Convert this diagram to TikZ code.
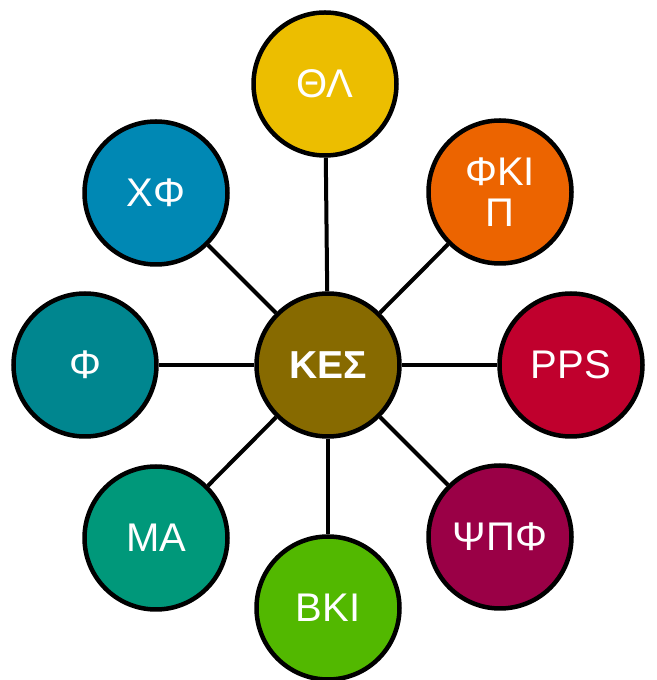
\documentclass[tikz,border=0pt]{standalone}
\usepackage{fontspec}
\setmainfont{Liberation Sans}
\usepackage{xcolor}
\usepackage{tikz}
\usetikzlibrary{positioning}
\usetikzlibrary{calc}
\definecolor{colKES}{HTML}{876A00}
\definecolor{colTL}{HTML}{ECBE00}
\definecolor{colFKIP}{HTML}{EC6400}
\definecolor{colPPS}{HTML}{C0002D}
\definecolor{colPSPF}{HTML}{9A0046}
\definecolor{colBKI}{HTML}{52B800}
\definecolor{colMA}{HTML}{00987A}
\definecolor{colF}{HTML}{00868F}
\definecolor{colXF}{HTML}{0088B4}
\tikzstyle{bigvertex}=[circle,draw=black,line width=4.5pt,minimum size=143pt,inner sep=0pt,text=white,align=center,font=\fontsize{40}{41}\selectfont]
\tikzstyle{undirectededge} = [draw,line width=4pt]

\begin{document}
\begin{tikzpicture}[x=1pt,y=1pt]

 \useasboundingbox (0,0) rectangle (656,680);

 %centre
  \def\H{680};
  \node[bigvertex, fill=colKES, font=\fontsize{39}{41}\selectfont\bfseries] (kes) at (328, \H-365) {ΚΕΣ};

 %ring
   \foreach \x/\y/\name/\col/\label in {325/84/tl/colTL/ΘΛ, 500/192/fkip/colFKIP/{ΦΚΙ\\Π}, 571/365/pps/colPPS/PPS, 500/537/pspf/colPSPF/ΨΠΦ, 328/608/bki/colBKI/BKI, 156/538/ma/colMA/MA, 85/365/f/colF/Φ, 156/193/xf/colXF/ΧΦ}
          \node[bigvertex, fill=\col] (\name) at (\x, \H-\y) {\label};

  \foreach \dest in {tl, fkip, pps, pspf, bki, ma, f, xf}
         \path[undirectededge] (kes) -- (\dest);

\end{tikzpicture}
\end{document}
